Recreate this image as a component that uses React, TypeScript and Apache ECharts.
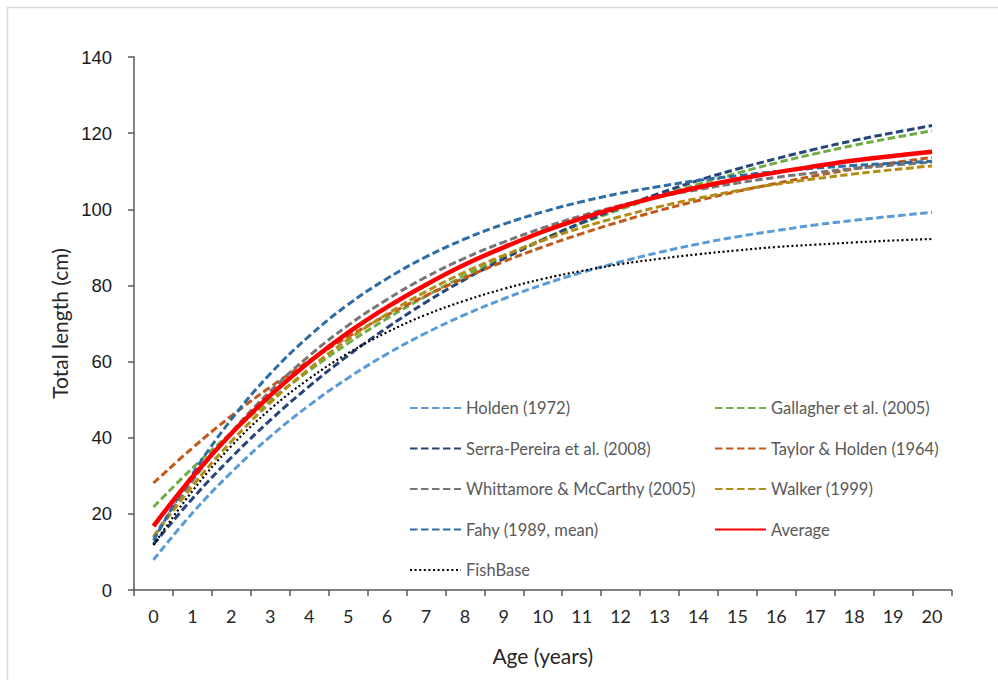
import React, { useEffect, useRef } from "react";
import * as echarts from "echarts";

const ages = ["0","1","2","3","4","5","6","7","8","9","10","11","12","13","14","15","16","17","18","19","20"];

const holden1972 = [7.9,20.2,30.9,40.3,48.5,55.7,62.0,67.5,72.3,76.5,80.2,83.4,86.2,88.7,90.9,92.8,94.4,95.9,97.1,98.2,99.2];
const gallagher2005 = [21.8,32.0,41.3,49.9,57.6,64.8,71.3,77.2,82.6,87.6,92.1,96.3,100.0,103.5,106.6,109.5,112.2,114.6,116.8,118.8,120.6];
const serraPereira2008 = [12.0,24.0,34.8,44.6,53.5,61.6,68.9,75.6,81.6,87.0,92.0,96.5,100.5,104.2,107.6,110.6,113.3,115.8,118.1,120.1,122.0];
const taylorHolden1964 = [28.1,37.3,45.7,53.3,60.2,66.5,72.2,77.3,82.0,86.3,90.1,93.6,96.8,99.7,102.3,104.7,106.8,108.8,110.6,112.2,113.6];
const whittamore2005 = [13.9,28.7,41.4,52.2,61.5,69.5,76.3,82.2,87.2,91.4,95.1,98.3,101.0,103.3,105.2,106.9,108.4,109.6,110.7,111.6,112.4];
const walker1999 = [13.9,27.3,39.0,49.2,58.1,65.8,72.5,78.4,83.5,87.9,91.8,95.2,98.1,100.7,102.9,104.9,106.6,108.0,109.3,110.4,111.4];
const fahy1989 = [13.0,30.4,44.8,56.8,66.7,75.0,81.8,87.5,92.2,96.1,99.3,102.0,104.2,106.0,107.6,108.8,109.9,110.8,111.5,112.1,112.6];
const average = [16.8,29.7,41.1,51.1,59.9,67.6,74.3,80.2,85.5,90.0,94.1,97.6,100.7,103.4,105.8,107.9,109.7,111.3,112.8,114.0,115.1];
const fishBase = [11.8,26.0,37.8,47.5,55.5,62.2,67.7,72.3,76.0,79.1,81.7,83.8,85.6,87.0,88.2,89.2,90.1,90.7,91.3,91.8,92.2];

const yTicks = { min: 0, max: 140, interval: 20 };

const seriesDefs = [
  { name: "Holden (1972)", data: holden1972, color: "#5B9BD5", kind: "dash" },
  { name: "Gallagher et al. (2005)", data: gallagher2005, color: "#70AD47", kind: "dash" },
  { name: "Serra-Pereira et al. (2008)", data: serraPereira2008, color: "#264478", kind: "dash" },
  { name: "Taylor & Holden (1964)", data: taylorHolden1964, color: "#C05A1C", kind: "dash" },
  { name: "Whittamore & McCarthy (2005)", data: whittamore2005, color: "#767676", kind: "dash" },
  { name: "Walker (1999)", data: walker1999, color: "#B38D12", kind: "dash" },
  { name: "Fahy (1989, mean)", data: fahy1989, color: "#2E6DA4", kind: "dash" },
  { name: "Average", data: average, color: "#FF0000", kind: "solid" },
  { name: "FishBase", data: fishBase, color: "#000000", kind: "dot" },
];

const legendCol1 = ["Holden (1972)", "Serra-Pereira et al. (2008)", "Whittamore & McCarthy (2005)", "Fahy (1989, mean)", "FishBase"];
const legendCol2 = ["Gallagher et al. (2005)", "Taylor & Holden (1964)", "Walker (1999)", "Average"];

export default function App() {
  const ref = useRef<HTMLDivElement>(null);
  useEffect(() => {
    if (!ref.current) return;
    const chart = echarts.init(ref.current, undefined, { renderer: "svg" });
    const legendText = { color: "#595959", fontFamily: "Lato", fontSize: 16.5, lineHeight: 20 };
    const legendBase = {
      orient: "vertical",
      itemWidth: 51,
      itemHeight: 20,
      itemGap: 20.5,
      top: 393,
      padding: 5,
      textStyle: legendText,
      itemStyle: { opacity: 0 },
      selectedMode: false,
    };
    chart.setOption({
      animation: false,
      backgroundColor: "#ffffff",
      graphic: [
        {
          type: "rect",
          shape: { x: 7.5, y: 7.5, width: 1200, height: 900 },
          style: { fill: "none", stroke: "#d9d9d9", lineWidth: 1.5 },
          silent: true,
        },
      ],
      grid: { left: 134, right: 46.5, top: 57, bottom: 90, containLabel: false },
      legend: [
        { ...legendBase, left: 404, data: legendCol1 },
        { ...legendBase, left: 709, data: legendCol2 },
      ],
      xAxis: {
        type: "category",
        data: ages,
        boundaryGap: true,
        name: "Age (years)",
        nameLocation: "middle",
        nameGap: 55,
        nameTextStyle: { fontFamily: "Lato", fontSize: 21, color: "#262626" },
        axisLine: { lineStyle: { color: "#595959", width: 1.5 } },
        axisTick: { show: true, interval: 0, length: 6, lineStyle: { color: "#595959", width: 1.5 } },
        axisLabel: { interval: 0, margin: 17, fontFamily: "Lato", fontSize: 18, color: "#262626" },
        splitLine: { show: false },
      },
      yAxis: {
        type: "value",
        min: yTicks.min,
        max: yTicks.max,
        interval: yTicks.interval,
        name: "Total length (cm)",
        nameLocation: "middle",
        nameGap: 61,
        nameRotate: 90,
        nameTextStyle: { fontFamily: "Lato", fontSize: 21, color: "#262626" },
        axisLine: { show: true, lineStyle: { color: "#595959", width: 1.5 } },
        axisTick: { show: true, length: 6, lineStyle: { color: "#595959", width: 1.5 } },
        axisLabel: { margin: 22, fontFamily: "Liberation Sans", fontSize: 18.5, color: "#1a1a1a" },
        splitLine: { show: false },
      },
      series: seriesDefs.map((s) => ({
        name: s.name,
        type: "line",
        data: s.data,
        smooth: 0.4,
        symbol: "none",
        color: s.color,
        lineStyle: {
          color: s.color,
          width: s.kind === "solid" ? 4.5 : s.kind === "dot" ? 2.2 : 3,
          type: s.kind === "solid" ? "solid" : s.kind === "dot" ? [2, 2.6] : [7.5, 3.5],
        },
      })),
    });
    return () => chart.dispose();
  }, []);
  return <div ref={ref} style={{ position: "fixed", left: 0, top: 0, width: 998, height: 680 }} />;
}
